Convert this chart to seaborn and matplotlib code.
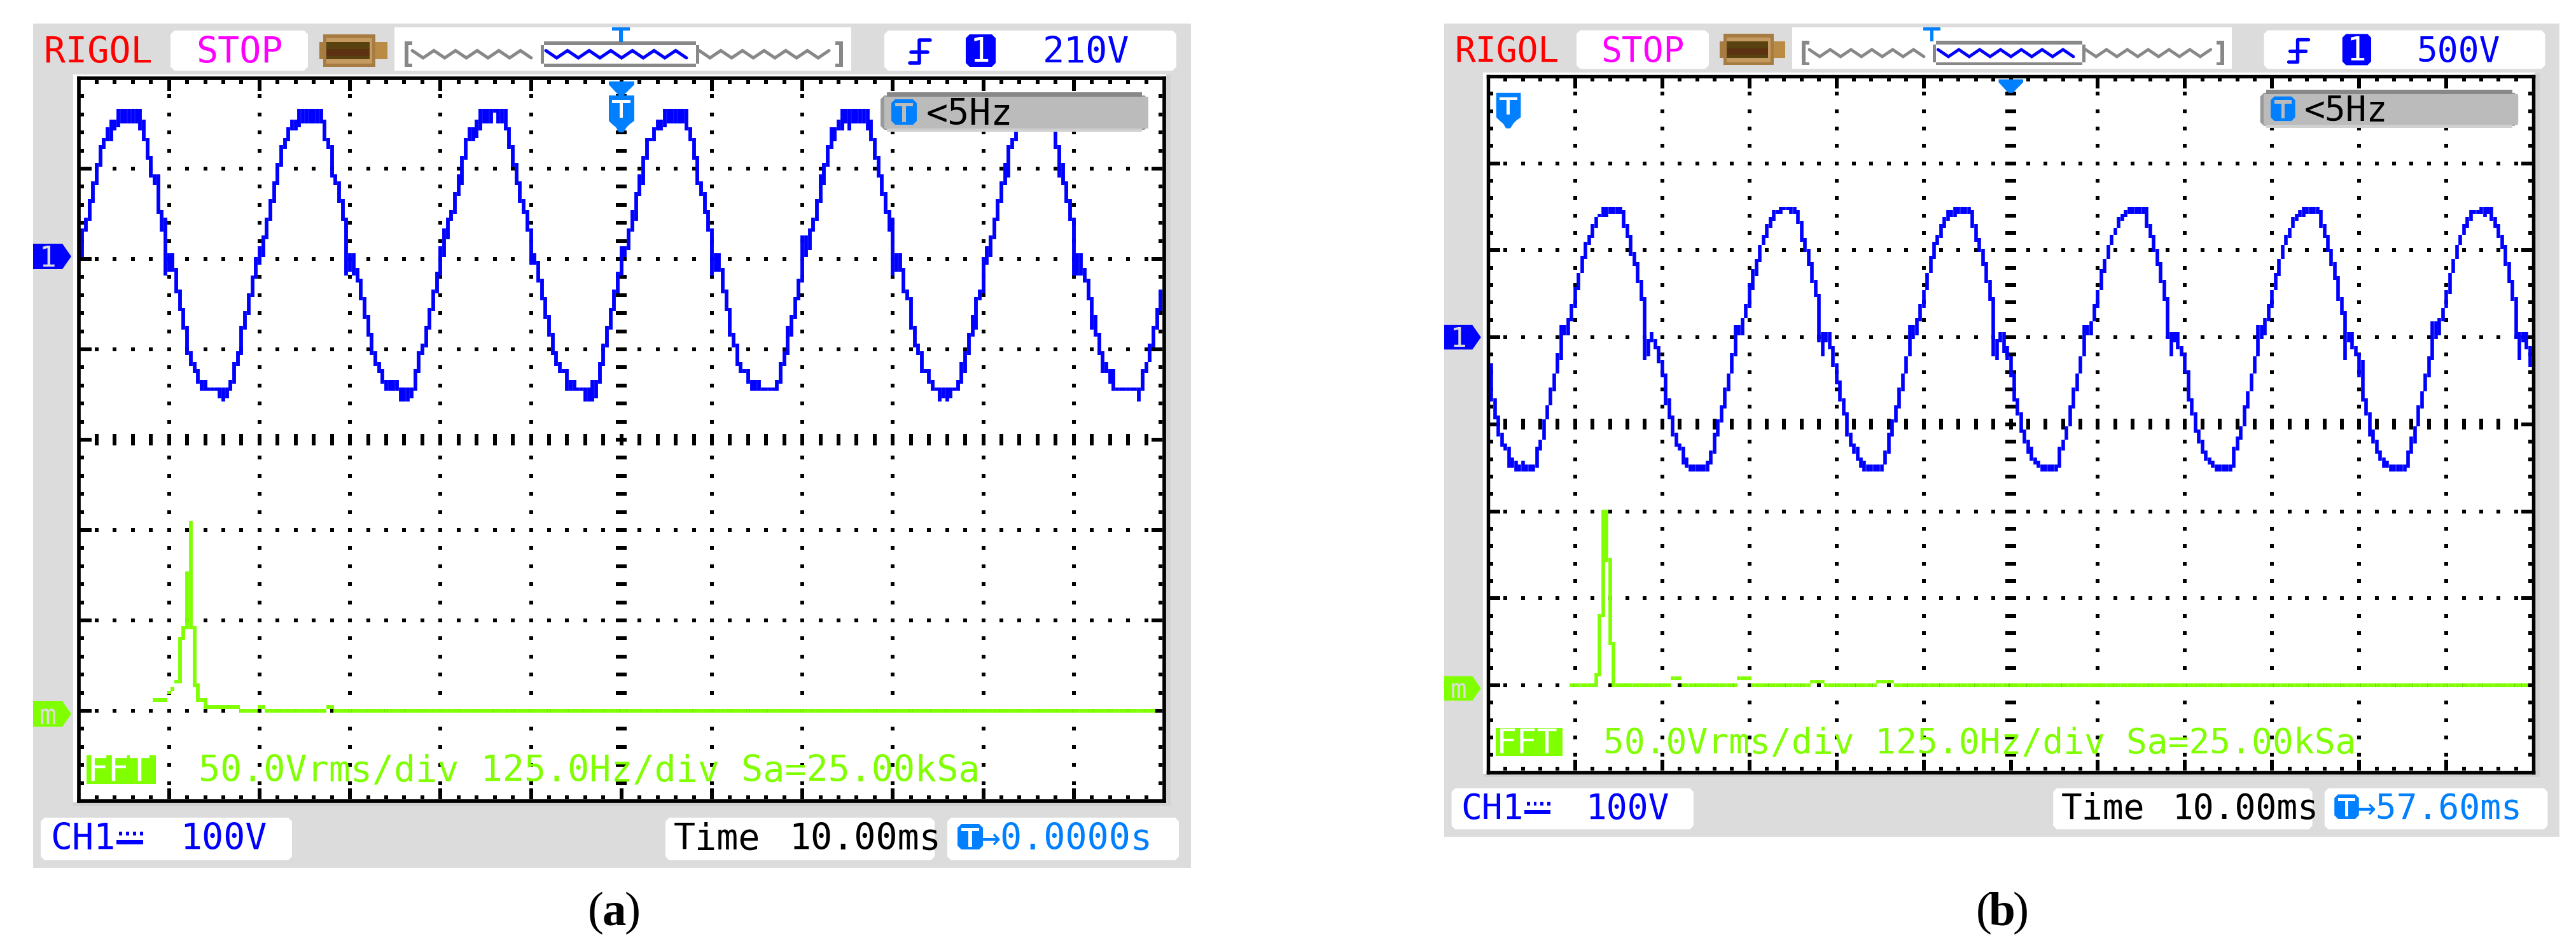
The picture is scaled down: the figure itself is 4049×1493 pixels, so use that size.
import numpy as np
import pandas as pd
import matplotlib
matplotlib.use("Agg")
import matplotlib.pyplot as plt
from matplotlib.patches import Polygon
import seaborn as sns

W, H = 4049, 1493

# ---- channel 1 trace, screen rows (0 = top of the 200-row display), one min/max per column
trace_a_top = [47,42,39,34,29,24,19,17,14,12, 12,9,9,9,9,9,9,9,12,17, 22,27,27,37,39,49,49,53,59,64,
 69,76,79,81,84,84,86,86,86,86, 86,86,84,79,76,69,65,60,55,50, 47,44,39,34,29,24,19,17,14,12,
 12,9,9,9,9,9,9,9,12,17, 19,27,29,34,39,49,49,53,56,61, 66,71,76,79,81,84,84,84,84,86,
 86,86,86,81,76,74,69,64,59,54, 47,42,39,37,32,27,22,17,14,14, 12,9,9,9,9,9,9,9,9,14,
 19,24,29,34,37,42,49,51,56,61, 66,71,76,79,81,81,84,84,86,86, 86,86,84,84,79,74,69,64,59,54,
 47,47,42,37,32,27,22,17,17,14, 12,12,9,9,9,9,9,9,9,14, 17,22,29,32,37,42,49,49,53,59,
 64,71,74,79,81,81,84,84,84,86, 86,86,86,84,79,76,69,66,61,56, 44,44,42,39,34,27,24,19,14,14,
 12,9,9,9,9,9,9,9,9,12, 17,22,27,32,37,39,49,49,53,59, 61,69,74,76,81,81,84,86,86,86,
 86,86,86,84,79,76,71,66,61,59, 50,47,44,39,34,29,24,19,17,12, 12,12,9,9,9,9,9,9,9,9,
 14,19,24,29,34,39,49,49,53,56, 61,66,71,76,79,81,81,86,86,86, 86,86,86,86,81,79,74,69,64,59]
trace_a_bot = [49,49,42,39,34,29,24,19,17,17, 14,13,12,12,12,12,12,14,17,22, 27,29,37,42,54,53,53,59,64,69,
 76,79,81,84,86,86,86,86,86,88, 89,88,86,84,79,76,69,65,60,55, 51,49,44,39,34,29,24,19,17,14,
 14,13,12,12,12,12,12,12,17,19, 27,29,34,39,54,53,54,56,61,66, 71,76,79,81,84,86,86,86,86,89,
 89,89,88,86,81,76,74,69,64,59, 54,49,44,39,37,32,29,22,17,17, 16,14,12,12,12,9,12,12,14,19,
 24,29,34,37,42,51,51,56,61,66, 71,76,79,81,81,86,86,86,86,86, 89,89,89,88,84,79,74,69,64,59,
 54,49,47,42,39,32,29,22,17,17, 14,14,13,12,12,12,12,12,14,17, 22,29,32,37,42,54,53,53,59,64,
 71,74,79,81,81,84,86,86,86,86, 86,86,86,86,84,79,76,71,66,61, 56,49,47,42,39,34,29,24,19,17,
 14,14,12,14,12,12,12,12,14,17, 22,27,32,37,42,54,53,53,59,61, 69,74,76,81,81,84,86,86,89,88,
 89,88,86,86,84,81,76,71,69,61, 59,51,49,44,39,34,29,27,19,17, 14,14,13,12,12,12,12,12,12,14,
 19,27,29,34,39,54,54,54,56,61, 69,71,76,81,81,84,86,86,86,86, 86,86,86,89,86,81,78,74,69,64]
trace_b_top = [82,83,93,98,103,106,107,110,111,112, 111,112,112,112,107,105,99,95,90,86, 80,72,72,70,66,61,57,52,48,46,
 43,41,40,38,38,38,38,38,38,39, 43,46,51,54,59,64,76,74,76,78, 82,86,93,98,103,106,107,110,112,112,
 112,112,112,111,108,103,99,95,90,86, 80,72,72,70,66,60,56,53,49,46, 43,41,39,39,38,38,38,38,38,39,
 42,47,50,54,59,63,74,74,74,78, 83,88,93,97,103,106,107,110,111,112, 112,112,112,112,108,103,99,95,90,86,
 81,72,72,70,66,62,57,52,48,46, 43,41,39,39,38,38,38,38,38,39, 43,47,50,54,59,64,76,74,74,78,
 81,86,93,97,102,105,107,110,111,112, 112,112,112,112,107,105,101,95,90,86, 81,72,72,71,66,62,56,53,49,46,
 44,41,40,39,38,38,38,38,38,38, 43,46,50,54,59,64,74,74,74,78, 80,85,93,97,102,105,108,110,111,112,
 112,112,112,112,107,104,101,95,91,86, 81,72,72,70,66,62,57,53,49,46, 44,41,40,39,38,38,38,38,38,39,
 43,46,50,54,58,64,68,74,74,78, 80,82,93,97,102,105,108,110,111,112, 112,112,112,112,108,104,101,95,91,86,
 81,71,71,70,67,62,57,53,49,46, 43,41,39,39,39,38,38,38,38,41, 43,46,49,54,59,64,74,74,74,78]
trace_b_bot = [85,93,98,103,106,107,112,112,113,113, 113,113,113,113,112,107,104,98,94,90, 85,81,74,74,70,66,61,56,52,48,
 46,43,40,40,40,39,39,39,39,43, 46,51,54,59,64,81,80,76,78,82, 86,94,98,103,106,107,111,112,113,113,
 113,113,113,113,111,108,103,99,95,90, 85,80,74,74,69,66,61,57,53,48, 46,43,41,39,39,38,38,39,39,42,
 47,50,54,59,63,76,80,76,78,83, 88,93,97,103,106,108,110,112,113,113, 113,113,113,113,111,108,103,99,95,90,
 85,80,75,74,70,66,61,56,52,48, 46,43,41,40,40,39,39,39,39,43, 47,50,54,59,64,80,81,76,79,81,
 86,93,97,102,105,108,110,111,112,113, 113,113,113,113,112,107,104,100,95,90, 85,80,74,74,70,66,61,56,52,48,
 45,43,41,40,39,39,39,39,39,43, 46,50,54,59,64,75,80,76,78,80, 85,93,97,102,105,108,110,111,112,113,
 113,113,113,113,112,107,104,100,95,90, 85,80,75,74,70,66,61,57,52,48, 46,43,41,40,40,39,39,39,39,43,
 46,50,54,58,64,68,81,76,78,80, 86,93,97,103,105,108,110,112,112,113, 113,113,113,113,112,108,105,100,95,90,
 86,81,75,74,70,66,62,56,52,48, 45,43,41,39,39,39,40,39,41,43, 46,49,54,59,64,75,81,76,78,83]

# ---- FFT trace: peak columns, then (first column, last column, row) runs of the floor
fft_a_first_col = 21
fft_a_top = [172,172,172,172,170,169,167,155,152,137,123,152,168,172,172,174]
fft_a_bot = [172,172,172,172,170,169,167,167,155,152,152,168,172,172,174,174]
fft_a_runs = [(37,44,174),(45,49,175),(50,51,174),(52,68,175),(69,70,174),(71,297,175)]
fft_b_first_col = 24
fft_b_top = [175,175,175,175,175,175,175,172,155,125,125,139,163]
fft_b_bot = [175,175,175,175,175,175,175,175,172,155,139,163,175]
fft_b_runs = [(37,52,175),(53,55,173),(56,71,175),(72,75,173),(76,92,175),(93,96,174),
              (97,111,175),(112,116,174),(117,298,175)]

# ---- readouts
trigger_a, trigger_b = "210V", "500V"
delay_a, delay_b = "→0.0000s", "→57.60ms"
caption_a, caption_b = "a", "b"
fft_text = "50.0Vrms/div 125.0Hz/div Sa=25.00kSa"

BLUE, GREEN, TBLUE = "#0000FF", "#80FF00", "#0080FF"
GREY, BOXG = "#DCDCDC", "#BBBBBB"
MONO = "DejaVu Sans Mono"

sns.set_theme(style="white")
fig = plt.figure(figsize=(W/100, H/100), dpi=100, facecolor="white")

def overlay(z):
    a = fig.add_axes([0, 0, 1, 1], zorder=z)
    a.set_xlim(0, W); a.set_ylim(H, 0); a.axis("off")
    return a
bg, fg = overlay(0), overlay(5)

def columns(ax, cols, top, bot, color, lw):
    cols, top, bot = np.asarray(cols), np.asarray(top, float), np.asarray(bot, float)
    df = pd.DataFrame({"col": np.repeat(cols, 2), "seg": np.repeat(cols, 2),
                       "row": np.column_stack([top-0.5, bot+0.5]).ravel()})
    sns.lineplot(data=df, x="col", y="row", units="seg", estimator=None, sort=False, ax=ax,
                 color=color, linewidth=lw, solid_capstyle="butt", legend=False)

def scope(x0, s, top, bot, ffc, ftop, fbot, fruns, trig, delay, ch_row, flag_dx, cap, capx):
    X = lambda x: x0 + (x-52)*s
    Y = lambda y: 37 + (y-37)*s
    def poly(ax, pts, color, z=2):
        ax.add_patch(Polygon([(X(a), Y(b)) for a, b in pts], closed=True, fc=color, ec="none", zorder=z))
    def box(ax, x1, y1, x2, y2, color, cut=0, z=2):
        c = cut
        poly(ax, [(x1+c,y1),(x2-c,y1),(x2,y1+c),(x2,y2-c),(x2-c,y2),(x1+c,y2),(x1,y2-c),(x1,y1+c)], color, z)
    def txt(x, y, t, color, fs=40.8, **k):
        fg.text(X(x), Y(y), t, color=color, fontsize=fs*s, family=MONO, va="baseline", ha="left", zorder=6, **k)
    def tee(x1, y1, x2, y2, color, z=4):
        m = (x1+x2)/2; w = (x2-x1)*0.1
        box(fg, x1, y1, x2, y1+(y2-y1)*0.18, color, z=z)
        box(fg, m-w, y1, m+w, y2, color, z=z)

    # panel
    box(bg, 52, 37, 1872, 1364, GREY)
    box(bg, 115, 117, 1840, 1267, "#D2D2D2")
    box(bg, 115, 117, 1833, 1261, "white")
    # header widgets
    txt(69, 99, "RIGOL", "#FF0000")
    box(bg, 268, 48, 484, 111, "white", 6)
    txt(308, 99, "STOP", "#FF00FF")
    box(bg, 508, 54, 590, 105, "#A67C43"); box(bg, 502, 66, 508, 93, "#A67C43")
    box(bg, 590, 66, 609, 93, "#B98B45")
    box(bg, 513, 60, 585, 100, "#C49A60")
    box(bg, 513, 66, 581, 93, "#584210"); box(bg, 513, 77, 581, 88, "#5C3212")
    box(bg, 620, 43, 1338, 111, "white")
    box(fg, 636, 65, 642, 105, "#888888"); box(fg, 636, 65, 648, 71, "#888888"); box(fg, 636, 100, 648, 105, "#888888")
    box(fg, 1319, 65, 1325, 105, "#888888"); box(fg, 1313, 65, 1325, 71, "#888888"); box(fg, 1313, 100, 1325, 105, "#888888")
    def zig(x1, x2, color):
        xs = np.arange(x1, x2, 17.0)
        ys = [79.5 if i % 2 == 0 else 91 for i in range(len(xs))]
        fg.plot([X(v) for v in xs], [Y(v) for v in ys], color=color, lw=3.6*s, solid_joinstyle="miter", zorder=3)
    zig(648, 850, "#888888"); zig(1099, 1315, "#888888"); zig(858, 1095, BLUE)
    box(fg, 855, 65, 1094, 71, "#888888"); box(fg, 855, 100, 1094, 105, "#888888")
    box(fg, 850, 71, 855, 100, "#888888"); box(fg, 1094, 71, 1099, 100, "#888888")
    tx = 976 if flag_dx == 0 else 848
    box(fg, tx-14, 43, tx+14, 48, TBLUE); box(fg, tx-3, 48, tx+3, 66, TBLUE)
    box(bg, 1390, 48, 1849, 111, "white", 6)
    fg.plot([X(v) for v in (1462, 1445, 1445, 1430)], [Y(v) for v in (63, 63, 99, 99)], color=BLUE, lw=4*s, zorder=4)
    fg.plot([X(v) for v in (1432, 1458)], [Y(v) for v in (82, 82)], color=BLUE, lw=4*s, zorder=4)
    box(fg, 1518, 54, 1565, 105, BLUE, 6)
    txt(1525, 97, "1", "white", 38)
    txt(1639, 99, trig, BLUE)
    # footer widgets
    box(bg, 64, 1285, 459, 1352, "white", 6)
    txt(79, 1335, "CH1", BLUE)
    box(fg, 183, 1320, 225, 1327, BLUE)
    for dx in (187, 198, 209, 220):
        box(fg, dx, 1307, dx+5, 1313, BLUE)
    txt(283, 1335, "100V", BLUE)
    box(bg, 1046, 1285, 1469, 1352, "white", 6)
    txt(1059, 1335, "Time", "black"); txt(1240, 1335, "10.00ms", "black")
    box(bg, 1489, 1285, 1853, 1352, "white", 6)
    box(fg, 1505, 1295, 1545, 1335, TBLUE, 6)
    tee(1511, 1301, 1539, 1331, "white")
    txt(1538, 1335, delay, TBLUE)

    # display
    fl, ft = X(123.5), Y(123)
    fr, fb = X(1830), Y(1259)
    ax = fig.add_axes([fl/W, 1-fb/H, (fr-fl)/W, (fb-ft)/H], zorder=2, facecolor="white")
    gx, gy = [], []
    def px(c, r):
        gx.append(c); gy.append(r)
    for c in range(25, 300, 25):
        for r in range(5, 200, 5):
            px(c, r)
            if c == 150:
                px(149, r); px(151, r)
    for r in range(25, 200, 25):
        for c in range(5, 300, 5):
            px(c, r)
            if r == 100:
                px(c, 99); px(c, 101)
    for c in range(5, 300, 5):
        for r in (1, 199):
            px(c, r)
        if c % 25 == 0:
            for r in (2, 3, 198, 197):
                px(c, r)
    for r in range(5, 200, 5):
        for c in (1, 299):
            px(c, r)
        if r % 25 == 0:
            for c in (2, 3, 298, 297):
                px(c, r)
    sns.scatterplot(x=gx, y=gy, marker="s", s=15.5*s*s, color="black", linewidth=0, ax=ax, legend=False, zorder=1)
    lw = 4.2*s
    columns(ax, np.arange(len(top)), top, bot, BLUE, lw)
    columns(ax, ffc + np.arange(len(ftop)), ftop, fbot, GREEN, lw)
    for a, b, r in fruns:
        columns(ax, np.arange(a, b+1), [r]*(b-a+1), [r]*(b-a+1), GREEN, lw)
    ax.set_xlim(0, 300); ax.set_ylim(200, 0)
    ax.set_xticks([]); ax.set_yticks([]); ax.set_xlabel(""); ax.set_ylabel("")
    for sp in ax.spines.values():
        sp.set_visible(True); sp.set_color("black"); sp.set_linewidth(4.1*s)

    # FFT legend
    box(fg, 136, 1187, 245, 1232, GREEN)
    txt(137, 1227, "FFT", "white", 40)
    txt(312, 1228, fft_text, GREEN)

    # markers
    def marker(yc, color, t):
        poly(fg, [(52,yc-20),(98,yc-20),(112,yc),(98,yc+20),(52,yc+20)], color)
        txt(62, yc+16, t, "#DDDDDD", 32)
    marker(ch_row, BLUE, "1"); marker(1122, GREEN, "m")

    # trigger flags
    poly(fg, [(957,128),(997,128),(997,133),(985,145),(980,150),(973,150),(968,145),(957,133)], TBLUE)
    d = flag_dx
    poly(fg, [(957+d,150),(997+d,150),(997+d,190),(990+d,195),(985+d,200),(980+d,208),(973+d,208),
              (968+d,200),(962+d,195),(957+d,190)], TBLUE)
    tee(962+d, 157, 991+d, 185, "white")

    # frequency box
    box(fg, 1384, 150, 1805, 204, "#999999", 6, z=3)
    box(fg, 1394, 145, 1795, 152, "#888888", 0, z=3)
    box(fg, 1390, 152, 1805, 202, BOXG, 0, z=3)
    box(fg, 1394, 202, 1795, 207, "#D0D0D0", 0, z=3)
    box(fg, 1401, 156, 1441, 196, TBLUE, 6, z=4)
    tee(1407, 162, 1435, 192, BOXG, z=5)
    txt(1456, 196, "<5Hz", "black")

    # caption
    for t, off, wt in (("(", -29, "normal"), (cap, 0, "bold"), (")", 29, "normal")):
        fg.text(capx+off, 1453, t, family="Liberation Serif", fontsize=54, fontweight=wt, color="black",
                ha="center", va="baseline", zorder=6)

scope(52, 1.0, trace_a_top, trace_a_bot, fft_a_first_col, fft_a_top, fft_a_bot, fft_a_runs,
      trigger_a, delay_a, 403, 0, caption_a, 965)
scope(2270, 0.963, trace_b_top, trace_b_bot, fft_b_first_col, fft_b_top, fft_b_bot, fft_b_runs,
      trigger_b, delay_b, 549, -820, caption_b, 3147)

fig.savefig("out.png", dpi=100, facecolor="white")
